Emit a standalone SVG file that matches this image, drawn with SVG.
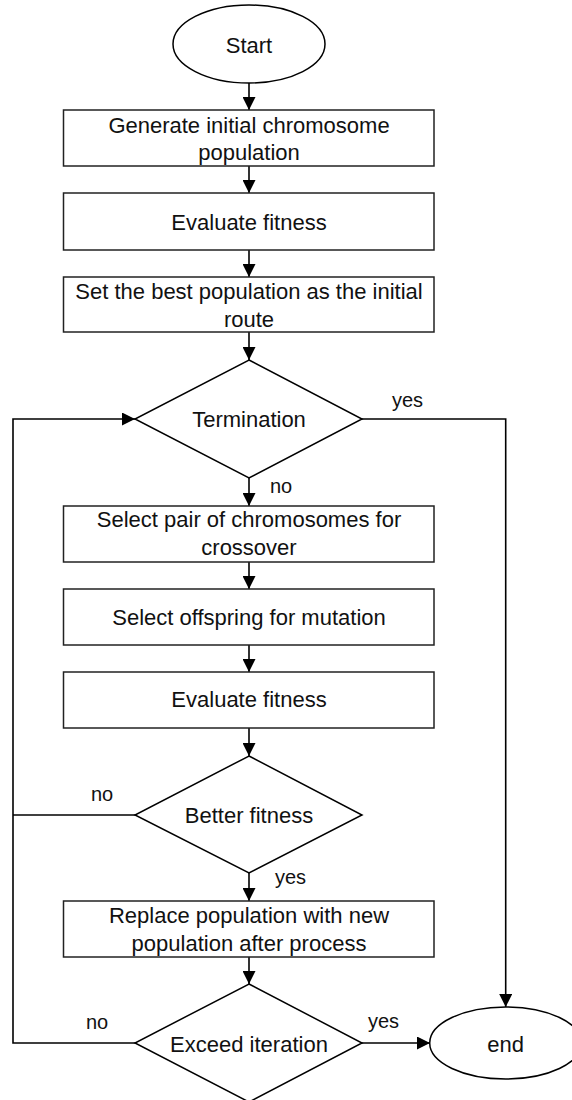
<svg xmlns="http://www.w3.org/2000/svg" width="572" height="1100" viewBox="0 0 572 1100">
<style>
.shape{fill:#ffffff;stroke:#000000;stroke-width:1.5}
.box{fill:#ffffff;stroke:#222222;stroke-width:1.5}
.t{font-family:"Liberation Sans",Arial,sans-serif;font-size:22px;fill:#111111;text-anchor:middle}
.lbl{font-family:"Liberation Sans",Arial,sans-serif;font-size:20px;fill:#111111}
.conn{fill:none;stroke:#000000;stroke-width:1.6}
</style>
<defs>
<marker id="arrow" markerUnits="userSpaceOnUse" markerWidth="13" markerHeight="13" refX="13" refY="6.5" orient="auto">
<path d="M0,0 L13,6.5 L0,13 z" fill="#000000"/>
</marker>
</defs>
<rect x="0" y="0" width="572" height="1100" fill="#ffffff"/>
<g id="connectors">
<line class="conn" x1="249" y1="83" x2="249" y2="110" marker-end="url(#arrow)"/>
<line class="conn" x1="249" y1="166" x2="249" y2="193" marker-end="url(#arrow)"/>
<line class="conn" x1="249" y1="250" x2="249" y2="277" marker-end="url(#arrow)"/>
<line class="conn" x1="249" y1="332" x2="249" y2="360" marker-end="url(#arrow)"/>
<line class="conn" x1="249" y1="478" x2="249" y2="506" marker-end="url(#arrow)"/>
<line class="conn" x1="249" y1="562" x2="249" y2="589" marker-end="url(#arrow)"/>
<line class="conn" x1="249" y1="645" x2="249" y2="672" marker-end="url(#arrow)"/>
<line class="conn" x1="249" y1="728" x2="249" y2="756" marker-end="url(#arrow)"/>
<line class="conn" x1="249" y1="873" x2="249" y2="901" marker-end="url(#arrow)"/>
<line class="conn" x1="249" y1="957" x2="249" y2="984" marker-end="url(#arrow)"/>
<polyline class="conn" points="362,419 505.7,419 505.7,1007" marker-end="url(#arrow)"/>
<polyline class="conn" points="135,1043 13,1043 13,419 135,419" marker-end="url(#arrow)"/>
<line class="conn" x1="135" y1="815" x2="13" y2="815"/>
<line class="conn" x1="362" y1="1043" x2="430" y2="1043" marker-end="url(#arrow)"/>
<text class="lbl" x="392" y="407">yes</text>
<text class="lbl" x="270" y="493">no</text>
<text class="lbl" x="91" y="801">no</text>
<text class="lbl" x="275" y="884">yes</text>
<text class="lbl" x="86" y="1029">no</text>
<text class="lbl" x="368" y="1028">yes</text>
</g>
<g id="start">
<ellipse class="shape" cx="249" cy="44" rx="76" ry="39"/>
<text class="t" x="249" y="53">Start</text>
</g>
<g id="generate">
<rect class="box" x="63.5" y="110" width="370.5" height="56"/>
<text class="t" x="249" y="133">Generate initial chromosome</text>
<text class="t" x="249" y="160">population</text>
</g>
<g id="evaluate1">
<rect class="box" x="63.5" y="193" width="370.5" height="57"/>
<text class="t" x="249" y="230">Evaluate fitness</text>
</g>
<g id="setbest">
<rect class="box" x="63.5" y="277" width="370.5" height="55"/>
<text class="t" x="249" y="299">Set the best population as the initial</text>
<text class="t" x="249" y="327">route</text>
</g>
<g id="termination">
<polygon class="shape" points="249,360 362,419 249,478 135,419"/>
<text class="t" x="249" y="427">Termination</text>
</g>
<g id="crossover">
<rect class="box" x="63.5" y="506" width="370.5" height="56"/>
<text class="t" x="249" y="527">Select pair of chromosomes for</text>
<text class="t" x="249" y="555">crossover</text>
</g>
<g id="mutation">
<rect class="box" x="63.5" y="589" width="370.5" height="56"/>
<text class="t" x="249" y="625">Select offspring for mutation</text>
</g>
<g id="evaluate2">
<rect class="box" x="63.5" y="672" width="370.5" height="56"/>
<text class="t" x="249" y="707">Evaluate fitness</text>
</g>
<g id="better">
<polygon class="shape" points="249,756 362,815 249,873 135,815"/>
<text class="t" x="249" y="823">Better fitness</text>
</g>
<g id="replace">
<rect class="box" x="63.5" y="901" width="370.5" height="56"/>
<text class="t" x="249" y="923">Replace population with new</text>
<text class="t" x="249" y="951">population after process</text>
</g>
<g id="exceed">
<polygon class="shape" points="249,984 362,1043 249,1102 135,1043"/>
<text class="t" x="249" y="1052">Exceed iteration</text>
</g>
<g id="end">
<ellipse class="shape" cx="505.7" cy="1043" rx="76" ry="36"/>
<text class="t" x="505.7" y="1052">end</text>
</g>
</svg>
